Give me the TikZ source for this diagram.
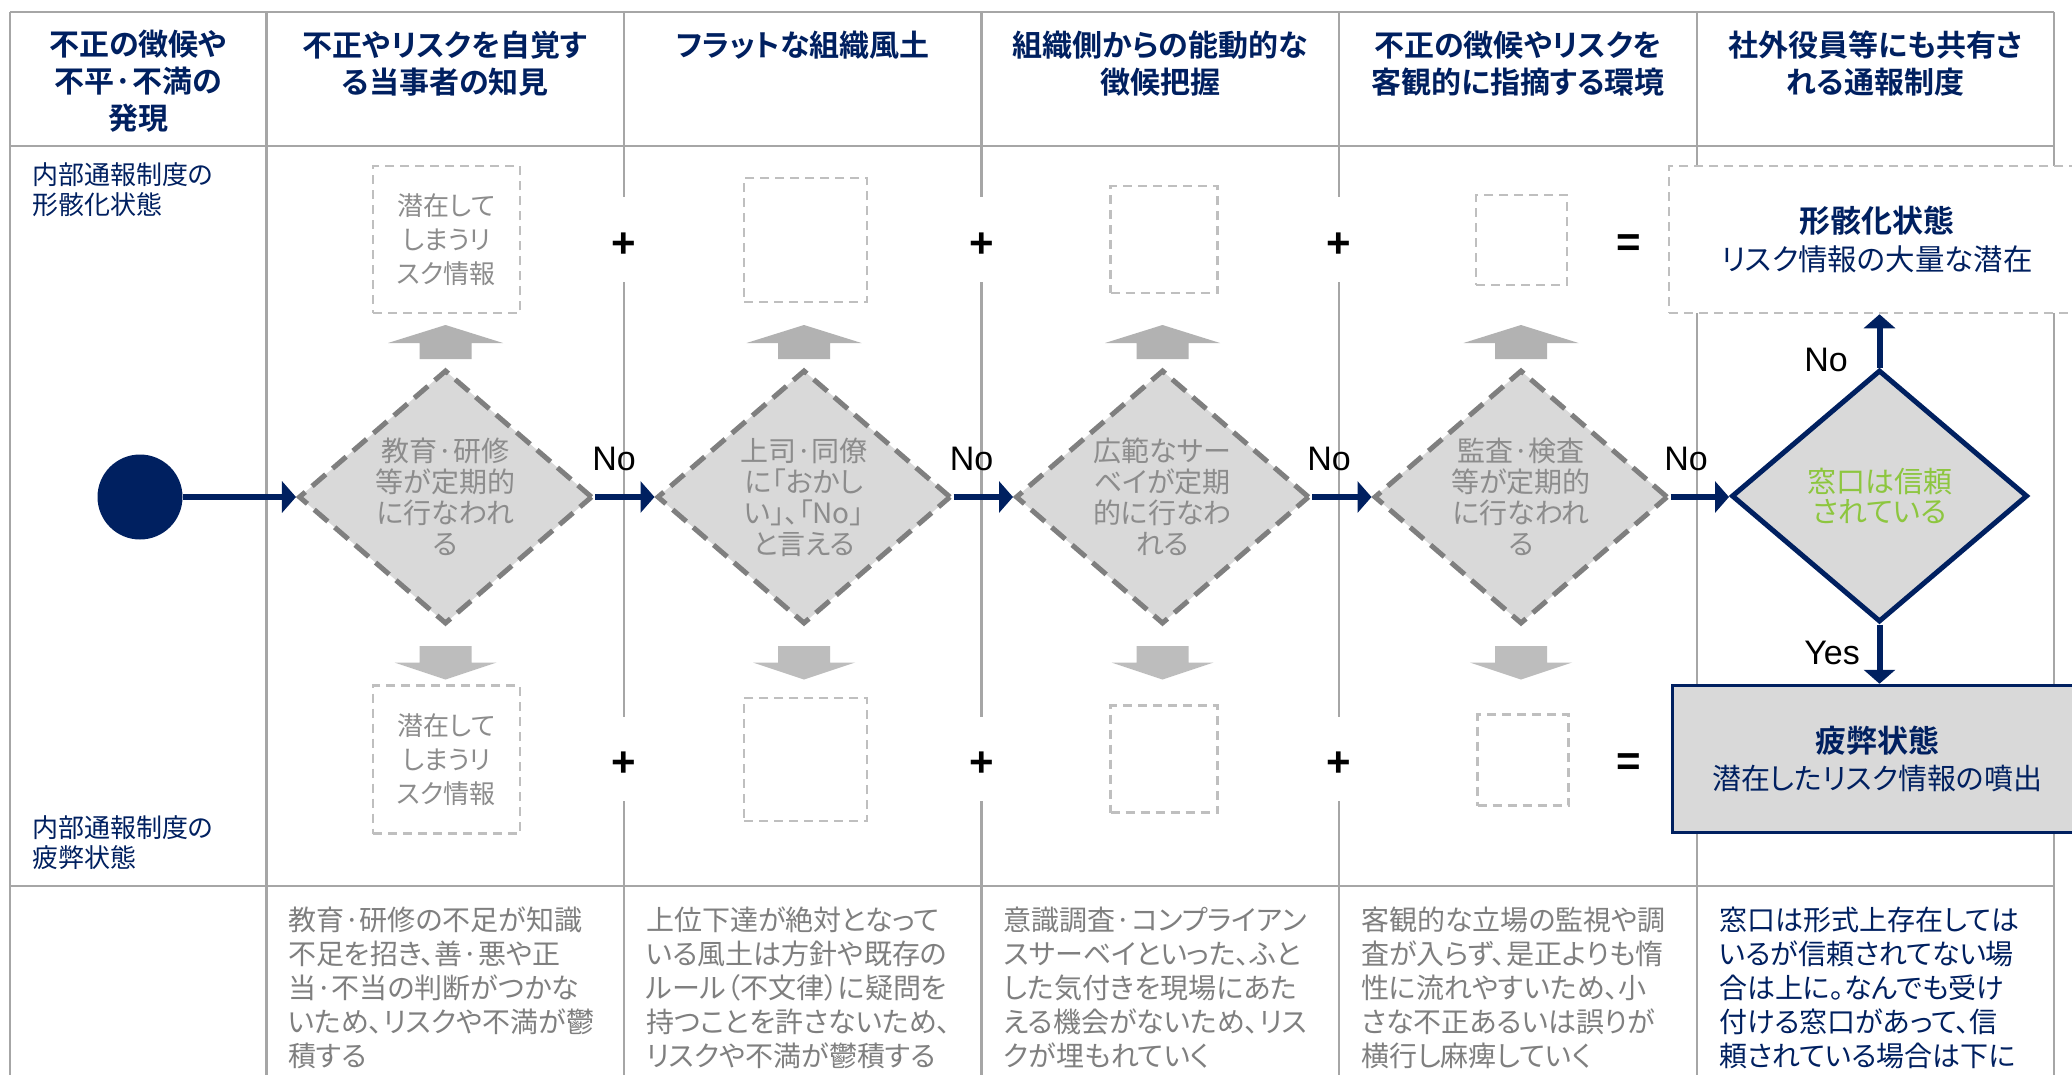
\documentclass[tikz,border=0pt]{standalone}
\usepackage{fontspec}
\setmainfont{Noto Sans CJK JP}[RawFeature=+palt, BoldFont={Noto Sans CJK JP Bold}]
\newfontfamily\latin{Liberation Sans}
\usetikzlibrary{shapes.geometric,arrows.meta}
\definecolor{navy}{HTML}{002060}
\definecolor{tline}{HTML}{A6A6A6}
\definecolor{lgray}{HTML}{D9D9D9}
\definecolor{dgray}{HTML}{7F7F7F}
\definecolor{tgray}{HTML}{8C8C8C}
\definecolor{bgray}{HTML}{BFBFBF}
\definecolor{uparr}{HTML}{B2B2B2}
\definecolor{dnarr}{HTML}{BDBDBD}
\definecolor{okgreen}{HTML}{8DC63F}
\begin{document}
\begin{tikzpicture}[x=1pt,y=-1pt,
  tl/.style={draw=tline, line width=2.6pt},
  hdr/.style={font=\fontsize{30}{37}\selectfont\bfseries, text=navy, align=center, inner sep=0pt},
  lab/.style={font=\fontsize{26}{30}\selectfont, text=navy, align=left, inner sep=0pt, anchor=west},
  dia/.style={diamond, draw=dgray, fill=lgray, line width=5pt, dash pattern=on 18pt off 9pt, minimum width=294pt, minimum height=254pt, inner sep=0pt},
  fdia/.style={diamond, draw=navy, fill=lgray, line width=5pt, minimum width=296pt, minimum height=252pt, inner sep=0pt},
  dtext/.style={font=\fontsize{28}{31}\selectfont, text=tgray, align=center, inner sep=0pt},
  ftext/.style={font=\fontsize{29}{30}\selectfont, text=okgreen, align=center, inner sep=0pt},
  narrow/.style={draw=navy, line width=6pt, -{Triangle[length=14pt,width=31pt]}},
  nolab/.style={font=\latin\fontsize{34}{34}\selectfont, text=black, inner sep=0pt},
  plus/.style={font=\latin\bfseries\fontsize{42}{42}\selectfont, text=black, inner sep=0pt},
  dbox/.style={draw=bgray, line width=2.5pt, dash pattern=on 9pt off 6pt, fill=white, inner sep=0pt},
  btext/.style={font=\fontsize{26}{34}\selectfont, text=tgray, align=center},
  desc/.style={anchor=west, align=left, inner sep=0pt, font=\fontsize{28}{34}\selectfont, text=dgray}
]
\useasboundingbox (0,0) rectangle (2072,1074);
\fill[white] (0,0) rectangle (2072,1074);

% table lines
\draw[tl] (10,12) -- (2054,12);
\draw[tl] (10,146) -- (2054,146);
\draw[tl] (10,886) -- (2054,886);
\draw[tl] (10,12) -- (10,1080);
\draw[tl] (266.5,12) -- (266.5,1080);
\foreach \x in {624,981.5,1339} {
  \draw[tl] (\x,12) -- (\x,197) (\x,282) -- (\x,717) (\x,801) -- (\x,1080);
}
\draw[tl] (1697,12) -- (1697,1080);
\draw[tl] (2054,12) -- (2054,1080);

% headers
\node[hdr] (h1) at (138,81.5) {不正の徴候や\\不平·不満の\\発現};
\node[hdr] (h2) at (445,63.5) {不正やリスクを自覚す\\る当事者の知見};
\node[hdr] (h3) at (802.7,45) {フラットな組織風土};
\node[hdr] (h4) at (1160,63.5) {組織側からの能動的な\\徴候把握};
\node[hdr] (h5) at (1518,63.5) {不正の徴候やリスクを\\客観的に指摘する環境};
\node[hdr] (h6) at (1875.5,63.5) {社外役員等にも共有さ\\れる通報制度};

% left labels
\node[lab] (l1) at (32,190) {内部通報制度の\\形骸化状態};
\node[lab] (l2) at (32,843) {内部通報制度の\\疲弊状態};

% gray block arrows
\foreach \cx in {445.5,804,1162.5,1521} {
  \fill[uparr] (\cx,325) -- (\cx+57.5,343) -- (\cx+26,343) -- (\cx+26,359)
     -- (\cx-26,359) -- (\cx-26,343) -- (\cx-57.5,343) -- cycle;
  \fill[dnarr] (\cx-26,646) -- (\cx+26,646) -- (\cx+26,662.5) -- (\cx+51,662.5)
     -- (\cx,679.5) -- (\cx-51,662.5) -- (\cx-26,662.5) -- cycle;
}

% dashed boxes
\node[dbox, minimum width=147pt, minimum height=147pt] (u1) at (446.5,239.5) {};
\node[btext] (ut1) at (u1) {潜在して\\しまうリ\\スク情報};
\node[dbox, minimum width=123pt, minimum height=124pt] (u2) at (805.5,240) {};
\node[dbox, minimum width=107pt, minimum height=107pt] (u3) at (1164,239.5) {};
\node[dbox, minimum width=91pt, minimum height=90pt] (u4) at (1521.5,240) {};
\node[dbox, minimum width=147pt, minimum height=148pt] (b1) at (446.5,759.5) {};
\node[btext] (bt1) at (b1) {潜在して\\しまうリ\\スク情報};
\node[dbox, minimum width=123pt, minimum height=123pt] (b2) at (805.5,759.5) {};
\node[dbox, minimum width=107pt, minimum height=107pt] (b3) at (1164,759) {};
\node[dbox, minimum width=91pt, minimum height=91pt] (b4) at (1523,760) {};

% result boxes
\node[dbox, minimum width=416pt, minimum height=147pt, align=center, text=navy,
      font=\fontsize{29.5}{38}\selectfont] (top) at (1877,239.5)
      {{\fontsize{31}{38}\selectfont\bfseries 形骸化状態}\\リスク情報の大量な潜在};
\node[draw=navy, line width=3pt, fill=lgray, minimum width=410pt, minimum height=147.5pt,
      inner sep=0pt, align=center, text=navy, font=\fontsize{29}{37}\selectfont] (bot) at (1877,759)
      {{\fontsize{31}{37}\selectfont\bfseries 疲弊状態}\\潜在したリスク情報の噴出};

% start
\node[circle, fill=navy, minimum size=85pt, inner sep=0pt] (start) at (140,497) {};

% diamonds
\node[dia] (d1) at (445.5,497) {};
\node[dtext] (t1) at (d1) {教育·研修\\等が定期的\\に行なわれ\\る};
\node[dia] (d2) at (804,497) {};
\node[dtext] (t2) at (d2) {上司·同僚\\に「おかし\\い」、「No」\\と言える};
\node[dia] (d3) at (1162.5,497) {};
\node[dtext] (t3) at (d3) {広範なサー\\ベイが定期\\的に行なわ\\れる};
\node[dia] (d4) at (1521,497) {};
\node[dtext] (t4) at (d4) {監査·検査\\等が定期的\\に行なわれ\\る};
\node[fdia] (d5) at (1879.5,496) {};
\node[ftext] (t5) at (d5) {窓口は信頼\\されている};

% connectors
\draw[narrow] (start) -- (d1);
\draw[narrow] (d1) -- (d2);
\draw[narrow] (d2) -- (d3);
\draw[narrow] (d3) -- (d4);
\draw[narrow] (d4.east) -- (d4.east -| d5.west);
\draw[narrow] (d5.north) -- (d5.north |- top.south);
\draw[narrow] (d5.south) -- (d5.south |- bot.north);

% labels
\node[nolab] (n1) at (614,459) {No};
\node[nolab] (n2) at (971.5,459) {No};
\node[nolab] (n3) at (1329,459) {No};
\node[nolab] (n4) at (1686,459) {No};
\node[nolab] (n5) at (1826,360) {No};
\node[nolab] (y5) at (1832,653) {Yes};

% plus / equals
\node[plus] (p1) at (624,245) {+};
\node[plus] (p2) at (981.5,245) {+};
\node[plus] (p3) at (1339,245) {+};
\node[plus] (q1) at (624,764) {+};
\node[plus] (q2) at (981.5,764) {+};
\node[plus] (q3) at (1339,764) {+};
\node[plus] (e1) at (1629,246) {=};
\node[plus] (e2) at (1629,765) {=};

% descriptions
\node[desc] (c2) at (288,988) {教育·研修の不足が知識\\不足を招き、善·悪や正\\当·不当の判断がつかな\\いため、リスクや不満が鬱\\積する};
\node[desc] (c3) at (646,988) {上位下達が絶対となって\\いる風土は方針や既存の\\ルール（不文律）に疑問を\\持つことを許さないため、\\リスクや不満が鬱積する};
\node[desc] (c4) at (1003.5,988) {意識調査·コンプライアン\\スサーベイといった、ふと\\した気付きを現場にあた\\える機会がないため、リス\\クが埋もれていく};
\node[desc] (c5) at (1361,988) {客観的な立場の監視や調\\査が入らず、是正よりも惰\\性に流れやすいため、小\\さな不正あるいは誤りが\\横行し麻痺していく};
\node[desc, text=navy] (c6) at (1719,988) {窓口は形式上存在しては\\いるが信頼されてない場\\合は上に。なんでも受け\\付ける窓口があって、信\\頼されている場合は下に};
\end{tikzpicture}
\end{document}
